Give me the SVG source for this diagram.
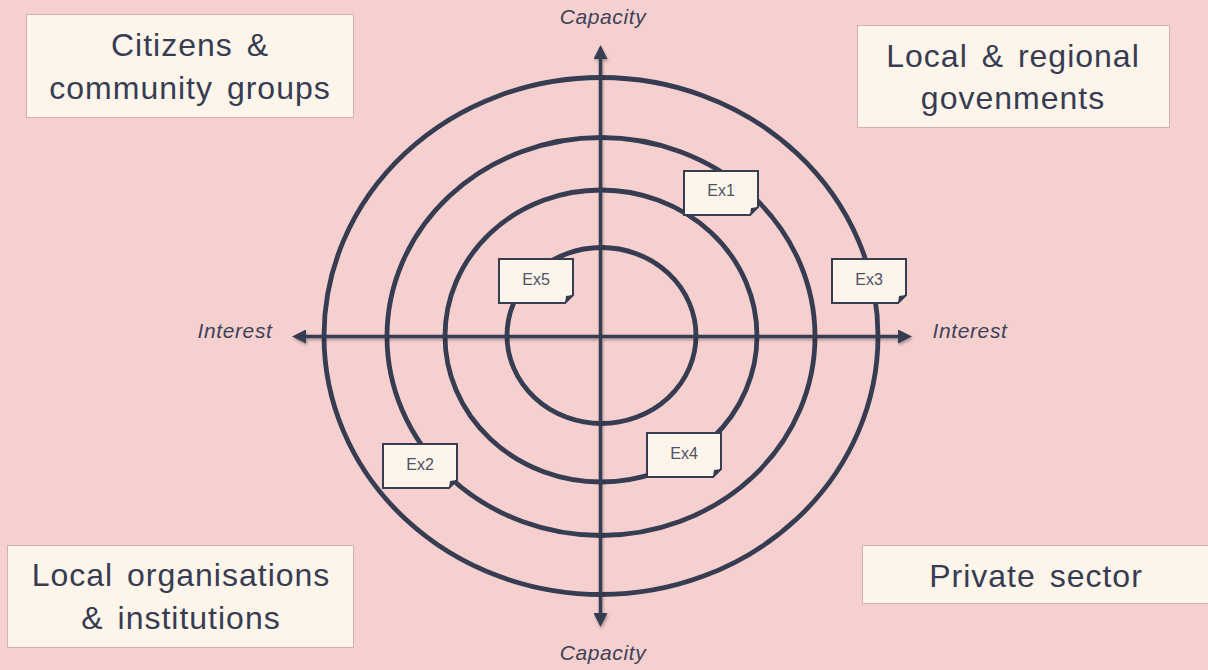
<svg xmlns="http://www.w3.org/2000/svg" width="1208" height="670" viewBox="0 0 1208 670">
  <style>
    .box { fill: #fdf5ea; stroke: #d6b0ab; stroke-width: 1; }
    .boxtxt { font-family: "Liberation Sans", Arial, sans-serif; font-size: 32px; letter-spacing: 1px; word-spacing: 4px; fill: #363c52; text-anchor: middle; }
    .ring { fill: none; stroke: #363c52; stroke-width: 4.8; }
    .axis { stroke: #363c52; stroke-width: 3.5; fill: none; }
    .axtxt { font-family: "Liberation Sans", Arial, sans-serif; font-size: 21px; font-style: italic; letter-spacing: 0.6px; fill: #3d4259; text-anchor: middle; }
    .note { fill: #fdf5ea; stroke: #363c52; stroke-width: 2; stroke-linejoin: miter; }
    .fold { fill: #363c52; }
    .notetxt { font-family: "Liberation Sans", Arial, sans-serif; font-size: 16px; fill: #4d5266; text-anchor: middle; }
  </style>
  <defs>
    <marker id="head" viewBox="0 -7 15 14" markerWidth="15" markerHeight="14" refX="1" refY="0" markerUnits="userSpaceOnUse" orient="auto-start-reverse">
      <path d="M0,-7 L14,0 L0,7 Z" fill="#363c52"/>
    </marker>
    <filter id="shadow" x="-10%" y="-10%" width="120%" height="120%">
      <feDropShadow dx="1" dy="2" stdDeviation="1.5" flood-color="#000" flood-opacity="0.3"/>
    </filter>
  </defs>

  <rect x="0" y="0" width="1208" height="670" fill="#f6d0cf"/>

  <g id="box-citizens">
    <rect class="box" x="26.5" y="14.5" width="327" height="103"/>
    <text class="boxtxt" x="190" y="56">Citizens &amp;</text>
    <text class="boxtxt" x="190" y="99">community groups</text>
  </g>
  <g id="box-local-gov">
    <rect class="box" x="857.5" y="25.5" width="312" height="102"/>
    <text class="boxtxt" x="1013" y="67">Local &amp; regional</text>
    <text class="boxtxt" x="1013" y="109">govenments</text>
  </g>
  <g id="box-local-org">
    <rect class="box" x="7.5" y="545.5" width="346" height="102"/>
    <text class="boxtxt" x="181" y="586">Local organisations</text>
    <text class="boxtxt" x="181" y="629">&amp; institutions</text>
  </g>
  <g id="box-private">
    <rect class="box" x="862.5" y="545.5" width="350" height="58"/>
    <text class="boxtxt" x="1036" y="587">Private sector</text>
  </g>

  <g id="rings">
    <ellipse class="ring" cx="601" cy="336" rx="277" ry="258.5"/>
    <ellipse class="ring" cx="601" cy="336.5" rx="214" ry="199"/>
    <ellipse class="ring" cx="601" cy="336" rx="156" ry="146"/>
    <ellipse class="ring" cx="601.5" cy="335.5" rx="94.5" ry="88"/>
  </g>

  <g id="connectors" filter="url(#shadow)">
    <line class="axis" x1="600.5" y1="58" x2="600.5" y2="614" marker-start="url(#head)" marker-end="url(#head)"/>
    <line class="axis" x1="305" y1="336.5" x2="899" y2="336.5" marker-start="url(#head)" marker-end="url(#head)"/>
  </g>

  <g id="labels">
    <text class="axtxt" x="603" y="24">Capacity</text>
    <text class="axtxt" x="603" y="660">Capacity</text>
    <text class="axtxt" x="235" y="338">Interest</text>
    <text class="axtxt" x="970" y="338">Interest</text>
  </g>

  <g id="ex1" transform="translate(684,171)">
    <path class="note" d="M0,0 H74 V36 L66,44 H0 Z"/>
    <path class="fold" d="M74,36 L67,37 L66,44 Z"/>
    <text class="notetxt" x="37" y="25">Ex1</text>
  </g>
  <g id="ex5" transform="translate(499,259)">
    <path class="note" d="M0,0 H74 V36 L66,44 H0 Z"/>
    <path class="fold" d="M74,36 L67,37 L66,44 Z"/>
    <text class="notetxt" x="37" y="26">Ex5</text>
  </g>
  <g id="ex3" transform="translate(832,259)">
    <path class="note" d="M0,0 H74 V36 L66,44 H0 Z"/>
    <path class="fold" d="M74,36 L67,37 L66,44 Z"/>
    <text class="notetxt" x="37" y="26">Ex3</text>
  </g>
  <g id="ex2" transform="translate(383,444)">
    <path class="note" d="M0,0 H74 V36 L66,44 H0 Z"/>
    <path class="fold" d="M74,36 L67,37 L66,44 Z"/>
    <text class="notetxt" x="37" y="26">Ex2</text>
  </g>
  <g id="ex4" transform="translate(647,433)">
    <path class="note" d="M0,0 H74 V36 L66,44 H0 Z"/>
    <path class="fold" d="M74,36 L67,37 L66,44 Z"/>
    <text class="notetxt" x="37" y="26">Ex4</text>
  </g>
</svg>
